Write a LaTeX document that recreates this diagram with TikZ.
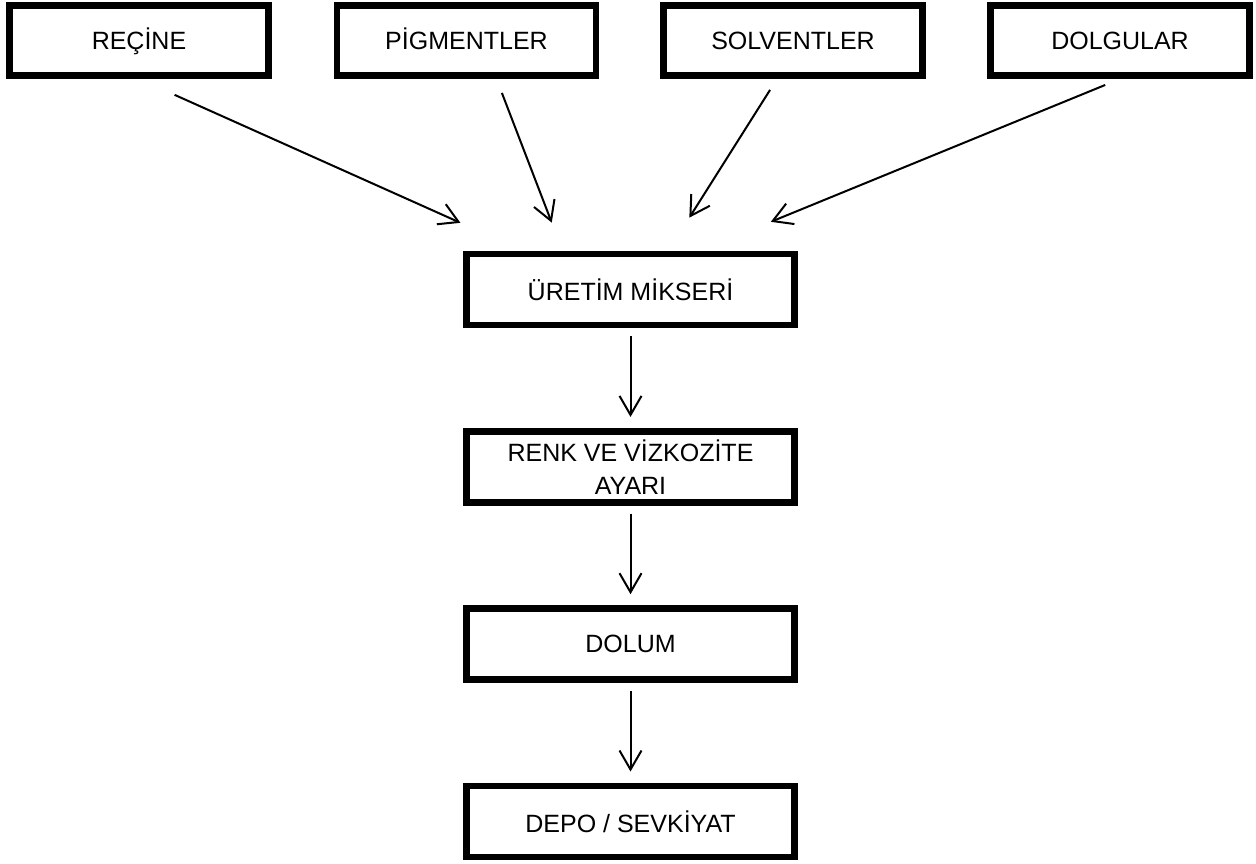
\documentclass[tikz,border=0pt]{standalone}
\usepackage{fontspec}
\setmainfont{Liberation Sans}
\usetikzlibrary{arrows.meta,positioning}

\begin{document}
\begin{tikzpicture}[
    x=0.5pt, y=-0.5pt,
    node distance=49.75pt,
    input/.style={draw,line width=3.4pt,minimum width=129.5pt,minimum height=35pt,
        text height=9pt,text depth=0pt,font=\fontsize{12.5}{16.5}\selectfont},
    stage/.style={draw,line width=3.4pt,minimum width=164pt,minimum height=35.5pt,
        align=center,font=\fontsize{12.5}{16.5}\selectfont},
    flow/.style={-{Straight Barb[length=9.5pt,width=11pt]},line width=1pt},
]
\useasboundingbox (0,0) rectangle (1256,863);

%----------------------------------
% Raw materials
%----------------------------------

\node[input] (recine) at (139,40.5) {REÇİNE};
\node[input] (pigment) at (466.5,40.5) {PİGMENTLER};
\node[input] (solvent) at (793,40.5) {SOLVENTLER};
\node[input] (dolgu) at (1120,40.5) {DOLGULAR};

%----------------------------------
% Process line
%----------------------------------

\node[stage] (uretim) at (630.5,289.5) {ÜRETİM MİKSERİ};
\node[stage,below=of uretim] (renk) {RENK VE VİZKOZİTE\\AYARI};
\node[stage,below=of renk] (dolum) {DOLUM};
\node[stage,below=of dolum] (depo) {DEPO / SEVKİYAT};

\draw[flow,shorten <=19.5pt,shorten >=34pt] (recine.south) -- ([xshift=-54pt]uretim.north);
\draw[flow,shorten <=7.5pt,shorten >=15pt] ([xshift=15pt]pigment.south) -- ([xshift=-34pt]uretim.north);
\draw[flow,shorten <=6.5pt,shorten >=19.5pt] ([xshift=-8pt]solvent.south) -- ([xshift=19pt]uretim.north);
\draw[flow,shorten <=8pt,shorten >=38pt] (dolgu.south) -- ([xshift=35pt]uretim.north);

\draw[flow,shorten <=4pt,shorten >=5.5pt] (uretim) -- (renk);
\draw[flow,shorten <=4pt,shorten >=5.5pt] (renk) -- (dolum);
\draw[flow,shorten <=4pt,shorten >=5.5pt] (dolum) -- (depo);

\end{tikzpicture}
\end{document}
